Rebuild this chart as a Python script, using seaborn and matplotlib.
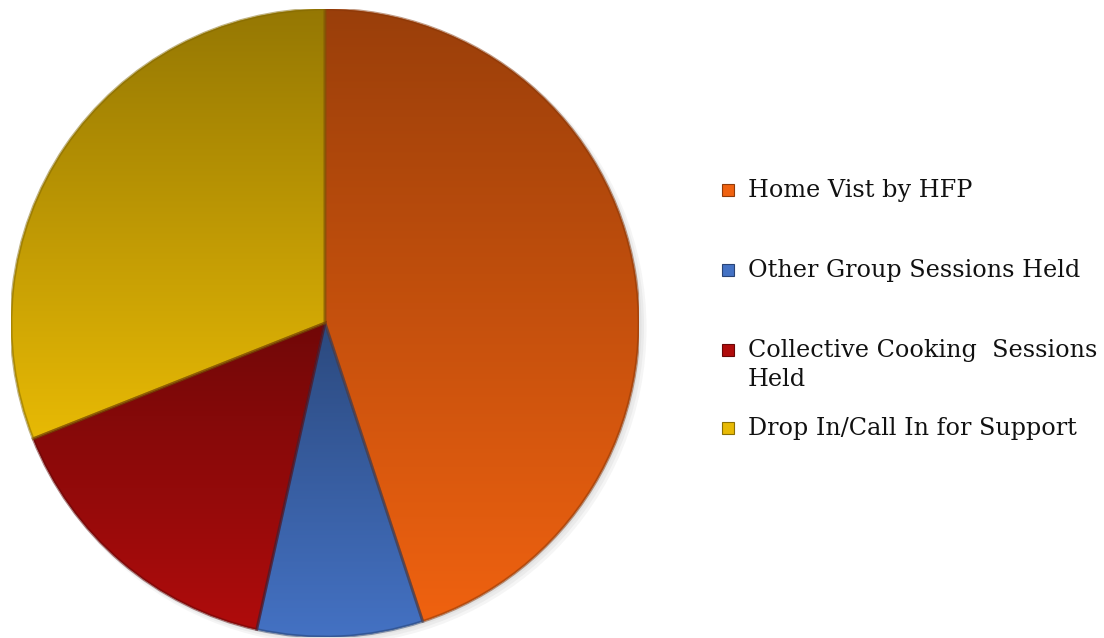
import textwrap
import numpy as np
import matplotlib
matplotlib.use("Agg")
import matplotlib.pyplot as plt
import matplotlib.colors as mcolors
from matplotlib.patches import Rectangle, Circle, PathPatch
import seaborn as sns

categories = [
    "Home Vist by HFP",
    "Other Group Sessions Held",
    "Collective Cooking  Sessions Held",
    "Drop In/Call In for Support",
]
values = [58, 11, 20, 40]
base_colors = ["#F06210", "#4472C4", "#B00C0C", "#E8BA05"]

sns.set_theme(style="white")
plt.rcParams["font.family"] = ["DejaVu Serif"]

W, H, DPI = 1104, 638, 100
fig = plt.figure(figsize=(W / DPI, H / DPI), dpi=DPI)
fig.patch.set_facecolor("white")

# pie centre and radius in pixels
cx, cy, r = 325, 323, 314
ax = fig.add_axes([(cx - r) / W, (H - cy - r) / H, 2 * r / W, 2 * r / H])

wedges, _ = ax.pie(values, colors=base_colors, startangle=90, counterclock=False,
                   radius=1.0, wedgeprops=dict(linewidth=0))
ax.set_aspect("equal")
ax.axis("off")

# soft drop shadow behind the disc
for k in range(3):
    ax.add_patch(Circle((0.008 + 0.004 * k, -0.008 - 0.004 * k), 1.0 + 0.004 * k,
                        facecolor="#404040", alpha=0.05, edgecolor="none", zorder=0,
                        clip_on=False))

# each slice lit from below: darker along its top edge, full colour at its bottom
ny = 300
ramp = np.linspace(0.64, 1.0, ny)
for w, c in zip(wedges, base_colors):
    ext = w.get_path().get_extents()
    rgb = np.array(mcolors.to_rgb(c))
    img = np.clip(rgb[None, None, :] * ramp[:, None, None], 0, 1)
    img = np.repeat(img, 2, axis=1)
    im = ax.imshow(img, extent=[ext.x0 - 0.01, ext.x1 + 0.01, ext.y0 - 0.01, ext.y1 + 0.01],
                   origin="upper", aspect="auto", interpolation="bilinear", zorder=2)
    im.set_clip_path(w)
    w.set_zorder(1)

# bevelled rims on each slice
for w, c in zip(wedges, base_colors):
    dark = np.array(mcolors.to_rgb(c)) * 0.55
    ax.add_patch(PathPatch(w.get_path(), fill=False, edgecolor=dark, linewidth=2.0,
                           alpha=0.5, zorder=3, transform=w.get_transform()))
ax.set_xlim(-1, 1)
ax.set_ylim(-1, 1)

# legend
legend_x = 722
text_x = 748
rows_y = [190, 270, 350, 428]
for label, c, y in zip(categories, base_colors, rows_y):
    sq = 12
    fig.patches.append(Rectangle((legend_x / W, (H - y - sq / 2) / H), sq / W, sq / H,
                                 transform=fig.transFigure, facecolor=c,
                                 edgecolor=np.array(mcolors.to_rgb(c)) * 0.6,
                                 linewidth=0.8))
    fig.text(text_x / W, (H - y + 11) / H, textwrap.fill(label, 28), ha="left", va="top",
             fontsize=17.2, color="#111111", linespacing=1.32)

fig.savefig("out.png", dpi=DPI, facecolor="white")
